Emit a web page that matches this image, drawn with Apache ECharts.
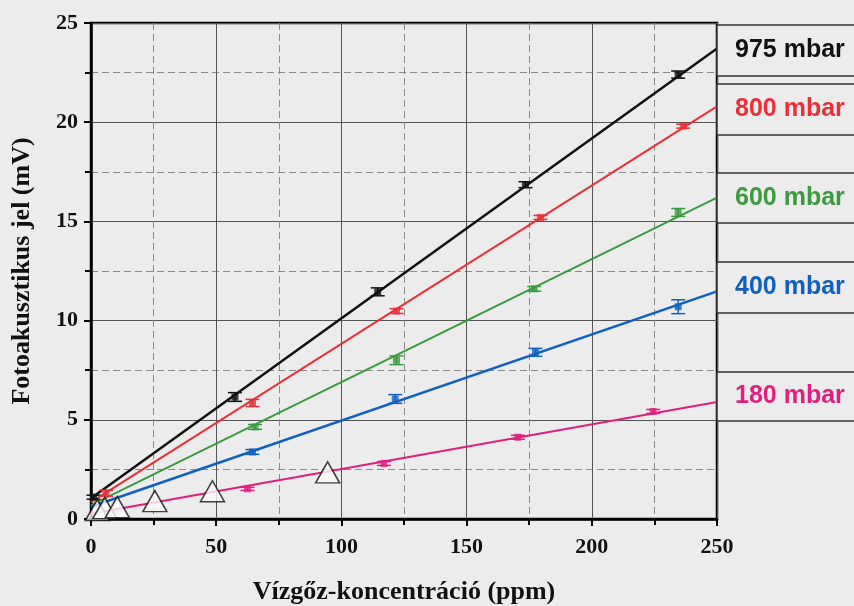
<!DOCTYPE html>
<html>
<head>
<meta charset="utf-8">
<title>Fotoakusztikus jel</title>
<script src="https://cdn.jsdelivr.net/npm/echarts@6/dist/echarts.min.js"></script>
<style>
    html, body {margin: 0; padding: 0; background: #ececec;}
    #main {width: 854px; height: 606px;}
</style>
</head>
<body>
<div id="main"></div>
<script>
// mért pontok [ppm, mV, hiba]
var p975 = [[1, 1.1, 0.1], [57.5, 6.15, 0.22], [114.5, 11.45, 0.2], [173.5, 16.85, 0.15], [234.5, 22.4, 0.18]];
var p800 = [[6, 1.3, 0.15], [64.5, 5.85, 0.18], [122, 10.48, 0.12], [179.5, 15.2, 0.1], [236.5, 19.8, 0.1]];
var p600 = [[65.5, 4.64, 0.12], [122, 8.0, 0.22], [177, 11.6, 0.12], [234.5, 15.45, 0.2]];
var p400 = [[64.5, 3.38, 0.12], [121.5, 6.05, 0.22], [177.5, 8.4, 0.2], [234.5, 10.7, 0.35]];
var p180 = [[62.5, 1.52, 0.08], [117, 2.8, 0.1], [170.5, 4.12, 0.1], [224.5, 5.42, 0.1]];
// illesztett egyenesek végpontjai
var fit975 = [[0, 1.05], [250, 23.72]];
var fit800 = [[0, 0.85], [250, 20.8]];
var fit600 = [[0, 0.7], [250, 16.2]];
var fit400 = [[0, 0.62], [250, 11.47]];
var fit180 = [[0, 0.26], [250, 5.9]];
// háromszögek
var tri = [[2.5, 0.45], [5.5, 0.55], [10.5, 0.6], [25.5, 0.9], [48.5, 1.4], [94.5, 2.35]];
var xTicks = [0, 50, 100, 150, 200, 250];
var yTicks = [0, 5, 10, 15, 20, 25];
var labels = ['975 mbar', '800 mbar', '600 mbar', '400 mbar', '180 mbar'];
var colors = ['#111111', '#e8303a', '#3a9a3e', '#1060c0', '#e0207e'];

var bg = '#ececec';
var serif = 'Liberation Serif';

/*hibasáv*/
function errorSeries(data, color) {
    return {
        type: 'custom',
        z: 5,
        data: data,
        renderItem: function (params, api) {
            var x = api.value(0), y = api.value(1), e = api.value(2);
            var lo = api.coord([x, y - e]);
            var hi = api.coord([x, y + e]);
            var w = 7;
            var st = {stroke: color, lineWidth: 1.5};
            return {
                type: 'group',
                children: [
                    {type: 'line', shape: {x1: lo[0], y1: lo[1], x2: hi[0], y2: hi[1]}, style: st},
                    {type: 'line', shape: {x1: lo[0] - w, y1: lo[1], x2: lo[0] + w, y2: lo[1]}, style: st},
                    {type: 'line', shape: {x1: hi[0] - w, y1: hi[1], x2: hi[0] + w, y2: hi[1]}, style: st}
                ]
            };
        }
    };
}

var groups = [[p975, fit975], [p800, fit800], [p600, fit600], [p400, fit400], [p180, fit180]];
var series = [];
groups.forEach(function (g, i) {
    series.push({
        type: 'line', data: g[1], symbol: 'none', z: 3,
        lineStyle: {color: colors[i], width: i == 0 || i == 3 ? 2.5 : 2}
    });
    series.push(errorSeries(g[0], colors[i]));
    series.push({
        type: 'scatter', z: 6, symbol: 'rect', symbolSize: 7,
        data: g[0].map(function (d) { return [d[0], d[1]]; }),
        itemStyle: {color: colors[i]}
    });
});
series.push({
    type: 'scatter', z: 8, symbol: 'triangle', symbolSize: [24, 21],
    data: tri,
    itemStyle: {color: '#fafafa', borderColor: '#111', borderWidth: 1.5}
});

/*jelmagyarázat dobozok*/
var boxes = [[25, 76], [84, 135], [173, 223], [262, 313], [372, 421]];
var graphic = [];
boxes.forEach(function (b, i) {
    graphic.push({
        type: 'rect', z: 100,
        shape: {x: 717, y: b[0], width: 150, height: b[1] - b[0]},
        style: {fill: bg, stroke: '#333', lineWidth: 1.5}
    });
    graphic.push({
        type: 'text', z: 101, x: 735, y: (b[0] + b[1]) / 2,
        style: {
            text: labels[i], fill: colors[i], verticalAlign: 'middle',
            font: 'bold 25px "Liberation Sans", Arial, sans-serif'
        }
    });
});

var axisLabel = {color: '#111', fontFamily: serif, fontWeight: 'bold', fontSize: 22};

var myChart = echarts.init(document.getElementById('main'));
var option = {
    backgroundColor: bg,
    animation: false,
    grid: {
        left: 91, right: 137, top: 23, bottom: 87, outerBoundsMode: 'none',
        show: true, borderColor: '#000', borderWidth: 2.5, backgroundColor: 'transparent'
    },
    xAxis: {
        type: 'value', min: xTicks[0], max: xTicks[xTicks.length - 1], interval: 50,
        name: 'Vízgőz-koncentráció (ppm)', nameLocation: 'middle', nameGap: 60,
        nameTextStyle: {color: '#111', fontFamily: serif, fontWeight: 'bold', fontSize: 26},
        axisLine: {show: true, lineStyle: {color: '#000', width: 2.5}},
        axisTick: {show: true, length: 7, lineStyle: {color: '#000', width: 2}},
        minorTick: {show: true, splitNumber: 2, length: 6, lineStyle: {color: '#000', width: 2}},
        splitLine: {show: true, lineStyle: {color: '#555', width: 1}},
        minorSplitLine: {show: true, lineStyle: {color: '#8a8a8a', width: 1, type: [7, 4]}},
        axisLabel: Object.assign({margin: 17}, axisLabel)
    },
    yAxis: {
        type: 'value', min: yTicks[0], max: yTicks[yTicks.length - 1], interval: 5,
        name: 'Fotoakusztikus jel (mV)', nameLocation: 'middle', nameGap: 56,
        nameTextStyle: {color: '#111', fontFamily: serif, fontWeight: 'bold', fontSize: 26},
        axisLine: {show: true, lineStyle: {color: '#000', width: 2.5}},
        axisTick: {show: true, length: 7, lineStyle: {color: '#000', width: 2}},
        minorTick: {show: true, splitNumber: 2, length: 6, lineStyle: {color: '#000', width: 2}},
        splitLine: {show: true, lineStyle: {color: '#555', width: 1}},
        minorSplitLine: {show: true, lineStyle: {color: '#8a8a8a', width: 1, type: [7, 4]}},
        axisLabel: Object.assign({margin: 13}, axisLabel)
    },
    graphic: graphic,
    series: series
};

myChart.setOption(option);
</script>
</body>
</html>
